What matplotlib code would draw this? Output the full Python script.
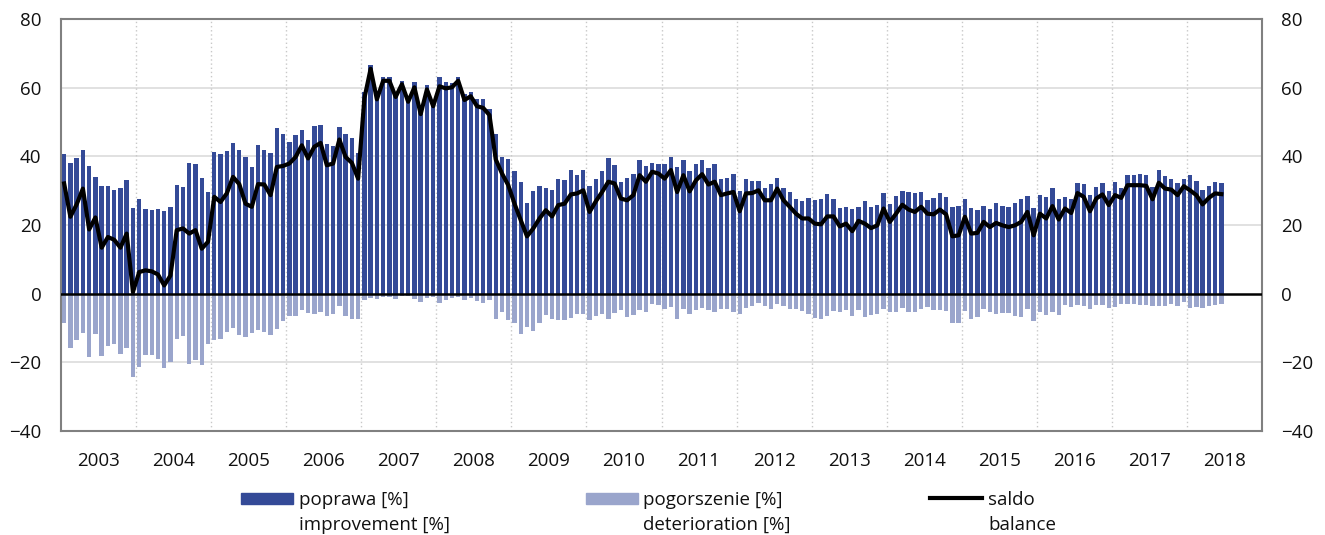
import numpy as np
import matplotlib
matplotlib.use('Agg')
from matplotlib import pyplot as plt
from matplotlib.patches import Rectangle
from matplotlib.lines import Line2D

plt.rcParams['font.family'] = ['Open Sans', 'DejaVu Sans']

# monthly data, Jan 2003 - Jun 2018
years = [str(y) for y in range(2003, 2019)]

improvement = [
    40.6, 38.1, 39.4, 41.9, 37.1, 33.9, 31.5, 31.5, 30.2, 30.9, 33.2, 24.9,  # 2003
    27.6, 24.6, 24.5, 24.6, 24.0, 25.1, 31.6, 31.0, 38.1, 37.7, 33.6, 29.7,  # 2004
    41.2, 40.7, 41.5, 43.9, 41.8, 39.8, 36.8, 43.2, 41.7, 41.1, 48.2, 46.4,  # 2005
    44.1, 46.2, 47.8, 44.7, 48.7, 49.1, 43.6, 43.1, 48.4, 46.4, 45.2, 41.0,  # 2006
    58.8, 66.5, 58.1, 63.0, 63.0, 58.8, 61.8, 56.7, 61.6, 54.8, 60.7, 55.6,  # 2007
    63.0, 61.7, 61.3, 63.0, 58.1, 58.8, 56.8, 56.8, 53.7, 46.4, 39.8, 39.3,  # 2008
    35.8, 32.6, 26.4, 29.9, 31.3, 30.8, 30.1, 33.5, 33.2, 36.0, 34.5, 36.0,  # 2009
    31.3, 33.5, 35.7, 39.6, 37.6, 32.6, 33.8, 34.8, 38.9, 37.2, 38.2, 37.7,  # 2010
    37.9, 39.8, 36.9, 38.9, 35.7, 37.9, 38.9, 36.7, 37.9, 33.3, 33.7, 34.9,  # 2011
    29.9, 33.4, 32.9, 32.8, 30.9, 31.8, 33.7, 30.9, 29.7, 27.7, 26.9, 27.9,  # 2012
    27.4, 27.5, 29.0, 27.6, 25.0, 25.2, 24.7, 25.3, 27.1, 25.2, 25.9, 29.3,  # 2013
    26.1, 28.5, 30.0, 29.7, 29.2, 29.7, 27.3, 28.0, 29.4, 28.1, 25.2, 25.5,  # 2014
    27.5, 25.0, 24.5, 25.4, 24.8, 26.5, 25.5, 25.1, 26.5, 27.7, 28.4, 24.9,  # 2015
    28.7, 28.2, 30.9, 27.7, 28.2, 27.5, 32.2, 31.9, 28.6, 31.1, 32.2, 29.9,  # 2016
    32.6, 30.9, 34.5, 34.6, 34.8, 34.6, 31.1, 36.0, 34.3, 33.4, 32.3, 33.5,  # 2017
    34.5, 32.7, 30.1, 31.4, 32.5, 32.1,                                      # 2018
]

deterioration = [
    -8.5, -15.7, -13.4, -11.4, -18.5, -11.8, -18.2, -15.1, -14.7, -17.5, -15.9, -24.2,
    -21.3, -18.0, -17.9, -19.0, -21.6, -19.8, -13.1, -12.2, -20.6, -19.4, -20.8, -14.6,
    -13.6, -13.2, -11.2, -10.1, -12.0, -12.6, -11.6, -10.7, -11.3, -11.9, -10.3, -7.9,
    -6.6, -6.4, -4.8, -5.6, -5.8, -5.3, -6.4, -5.8, -3.7, -6.6, -7.3, -7.4,
    -1.9, -1.3, -1.5, -1.0, -1.0, -1.5, -0.8, -0.8, -1.5, -2.5, -1.2, -1.0,
    -2.6, -1.9, -1.2, -1.0, -1.7, -1.3, -2.2, -2.7, -1.7, -7.3, -5.3, -7.8,
    -8.6, -11.7, -9.7, -10.9, -8.6, -6.3, -7.3, -7.8, -7.8, -7.1, -5.8, -6.0,
    -7.8, -6.5, -6.0, -7.3, -5.6, -4.9, -6.8, -6.3, -4.9, -5.2, -3.1, -3.2,
    -4.4, -4.0, -7.3, -4.5, -5.9, -4.9, -4.1, -4.9, -5.3, -4.6, -4.5, -5.3,
    -5.9, -4.2, -3.6, -2.7, -3.7, -4.6, -3.1, -3.7, -4.4, -4.4, -5.0, -6.0,
    -7.0, -7.3, -6.5, -5.1, -5.4, -4.8, -6.5, -4.8, -6.7, -6.1, -6.0, -4.5,
    -5.2, -5.2, -4.1, -5.2, -5.4, -4.4, -4.0, -4.9, -4.9, -5.0, -8.5, -8.5,
    -5.1, -7.5, -6.8, -4.5, -5.4, -5.9, -5.6, -5.7, -6.6, -6.8, -4.6, -7.9,
    -5.4, -6.3, -5.4, -6.1, -3.4, -4.0, -3.2, -3.7, -4.6, -3.4, -3.3, -4.1,
    -3.9, -3.0, -3.0, -3.0, -3.2, -3.2, -3.6, -3.7, -3.7, -3.1, -3.6, -2.5,
    -4.2, -4.0, -4.1, -3.5, -3.3, -3.1,
]

balance = [
    32.1, 22.4, 26.0, 30.6, 18.7, 22.2, 13.4, 16.5, 15.7, 13.4, 17.5, 0.5,
    6.3, 6.8, 6.5, 5.6, 2.4, 5.3, 18.5, 19.0, 17.5, 18.5, 13.1, 15.1,
    28.2, 26.7, 29.2, 34.0, 31.9, 26.2, 25.3, 31.9, 31.8, 28.7, 36.9, 37.2,
    37.9, 39.8, 43.2, 39.4, 42.8, 43.9, 37.4, 37.9, 44.9, 39.8, 38.1, 33.5,
    56.9, 65.5, 56.6, 62.0, 62.0, 57.3, 61.0, 55.9, 60.1, 52.3, 59.5, 54.6,
    60.4, 59.8, 60.1, 62.0, 56.4, 57.5, 54.6, 54.1, 52.0, 39.1, 35.0, 31.6,
    26.2, 21.4, 16.7, 19.0, 21.9, 24.3, 22.5, 25.8, 26.2, 28.9, 29.2, 30.1,
    23.8, 26.9, 29.6, 32.6, 32.1, 27.7, 27.2, 28.7, 34.5, 32.6, 35.5, 35.0,
    33.5, 36.0, 29.6, 34.5, 29.8, 33.0, 34.8, 31.8, 32.6, 28.7, 29.2, 29.6,
    24.0, 29.2, 29.3, 30.1, 27.2, 27.2, 30.6, 27.2, 25.3, 23.3, 21.9, 21.9,
    20.4, 20.2, 22.5, 22.5, 19.6, 20.4, 18.2, 21.2, 20.4, 19.1, 19.9, 24.8,
    20.9, 23.3, 25.9, 24.5, 23.8, 25.3, 23.3, 23.1, 24.5, 23.1, 16.7, 17.0,
    22.4, 17.5, 17.7, 20.9, 19.4, 20.6, 19.9, 19.4, 19.9, 20.9, 23.8, 17.0,
    23.3, 21.9, 25.5, 21.6, 24.8, 23.5, 29.3, 28.2, 24.0, 27.7, 28.9, 25.8,
    28.7, 27.9, 31.6, 31.6, 31.6, 31.4, 27.5, 32.3, 30.6, 30.3, 28.7, 31.3,
    30.1, 28.7, 26.0, 27.9, 29.2, 29.0,
]

dark_blue = '#344a97'
light_blue = '#9aa5cc'
text_col = '#111111'

W, H = 1325, 535
fig = plt.figure(figsize=(W / 100, H / 100), dpi=100)
ax = fig.add_axes([61 / W, 1 - 431 / H, (1262 - 61) / W, (431 - 19) / H])

x = np.arange(len(improvement)) + 0.5
ax.bar(x, improvement, width=0.7, color=dark_blue, zorder=2)
ax.bar(x, deterioration, width=0.7, color=light_blue, zorder=2)
ax.plot(x, balance, color='black', lw=3.0, zorder=4, solid_joinstyle='round')
ax.axhline(0, color='black', lw=1.8, zorder=3)

ax.set_xlim(0, 12 * len(years))
ax.set_ylim(-40, 80)
ax.set_yticks(range(-40, 81, 20))
for v in [-20, 20, 40, 60]:
    ax.axhline(v, color='#dcdcdc', lw=1.2, zorder=1)
for k in range(1, len(years)):
    ax.axvline(12 * k, color='#c8c8c8', lw=1.0, ls=(0, (1, 2)), zorder=1)

ax.set_xticks([12 * k + 6 for k in range(len(years))])
ax.set_xticklabels(years)
fs = 13.5
ax.tick_params(axis='x', length=0, pad=15, labelsize=fs, colors=text_col)
ax.tick_params(axis='y', length=0, pad=14, labelsize=fs, colors=text_col,
               labelleft=True, labelright=True)
for s in ax.spines.values():
    s.set_color('#808080')
    s.set_linewidth(1.5)

# legend, drawn by hand so handles line up with the first text line
def fx(px):
    return px / W

def fy(py):
    return 1 - py / H

fig.add_artist(Rectangle((fx(241), fy(504)), 52 / W, 11 / H, color=dark_blue,
                         transform=fig.transFigure))
fig.text(fx(299), fy(505), 'poprawa [%]', fontsize=fs, va='baseline', color=text_col)
fig.text(fx(299), fy(530), 'improvement [%]', fontsize=fs, va='baseline', color=text_col)

fig.add_artist(Rectangle((fx(586), fy(504)), 52 / W, 11 / H, color=light_blue,
                         transform=fig.transFigure))
fig.text(fx(643), fy(505), 'pogorszenie [%]', fontsize=fs, va='baseline', color=text_col)
fig.text(fx(643), fy(530), 'deterioration [%]', fontsize=fs, va='baseline', color=text_col)

fig.add_artist(Line2D([fx(930), fx(982)], [fy(498), fy(498)], color='black', lw=3.0,
                      transform=fig.transFigure))
fig.text(fx(988), fy(505), 'saldo', fontsize=fs, va='baseline', color=text_col)
fig.text(fx(988), fy(530), 'balance', fontsize=fs, va='baseline', color=text_col)

fig.savefig('out.png', dpi=100)
